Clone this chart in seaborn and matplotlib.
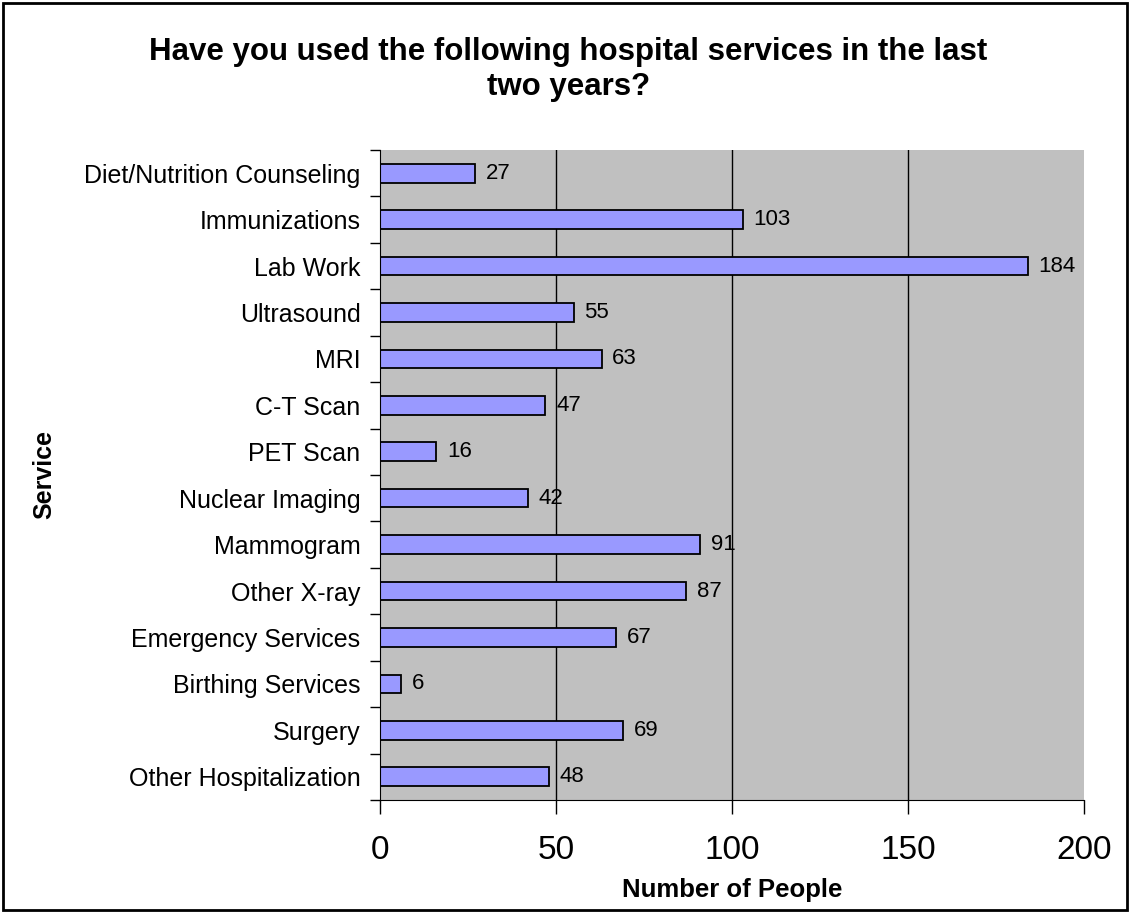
import matplotlib
matplotlib.use("Agg")
import matplotlib.pyplot as plt
import seaborn as sns
import pandas as pd
from matplotlib.patches import Rectangle

services = [
    "Diet/Nutrition Counseling", "Immunizations", "Lab Work", "Ultrasound", "MRI",
    "C-T Scan", "PET Scan", "Nuclear Imaging", "Mammogram", "Other X-ray",
    "Emergency Services", "Birthing Services", "Surgery", "Other Hospitalization",
]
counts = [27, 103, 184, 55, 63, 47, 16, 42, 91, 87, 67, 6, 69, 48]
x_ticks = [0, 50, 100, 150, 200]

plt.rcParams["font.family"] = ["Liberation Sans", "DejaVu Sans"]

df = pd.DataFrame({"service": services, "count": counts})

fig = plt.figure(figsize=(11.3, 9.13), dpi=100)
ax = fig.add_axes([0.3363, 0.1238, 0.6230, 0.7119])

sns.barplot(data=df, y="service", x="count", orient="h", color="#9999FF",
            edgecolor="black", linewidth=1.3, width=0.4, saturation=1, ax=ax)

ax.set_facecolor("#C0C0C0")
ax.set_xlim(0, 200)
ax.set_ylim(len(services) - 0.5, -0.5)
ax.set_xticks(x_ticks)
for x in x_ticks[1:-1]:
    ax.axvline(x, color="black", lw=1, zorder=0.5)
ax.set_axisbelow(True)

for i, v in enumerate(counts):
    ax.text(v + 3, i, str(v), va="center", ha="left", fontsize=16)

# category ticks sit between the bars, labels in the middle
ax.set_yticks([i + 0.5 for i in range(-1, len(services))], minor=False)
ax.set_yticklabels([])
ax.set_yticks(range(len(services)), minor=True)
ax.set_yticklabels(services, minor=True, fontsize=18)
ax.tick_params(axis="y", which="minor", length=0, pad=14)
ax.tick_params(axis="y", which="major", length=7, width=1, direction="out")
ax.tick_params(axis="x", length=10, width=1, direction="out", labelsize=24, pad=15)

for side in ["top", "right"]:
    ax.spines[side].set_visible(False)
ax.spines["left"].set_color("black")
ax.spines["bottom"].set_color("black")

ax.set_xlabel("Number of People", fontsize=18.5, weight="bold")
ax.xaxis.set_label_coords(0.5, -0.12)
ax.set_ylabel("Service", fontsize=18, weight="bold")
ax.yaxis.set_label_coords(-0.46, 0.5)

fig.suptitle("Have you used the following hospital services in the last\ntwo years?",
             fontsize=22.5, weight="bold", x=0.503, y=0.96, va="top", linespacing=1.25)

fig.patches.append(Rectangle((0.003, 0.003), 0.994, 0.994, transform=fig.transFigure,
                             fill=False, edgecolor="black", lw=2))

plt.savefig("out.png", dpi=100, facecolor="w")
